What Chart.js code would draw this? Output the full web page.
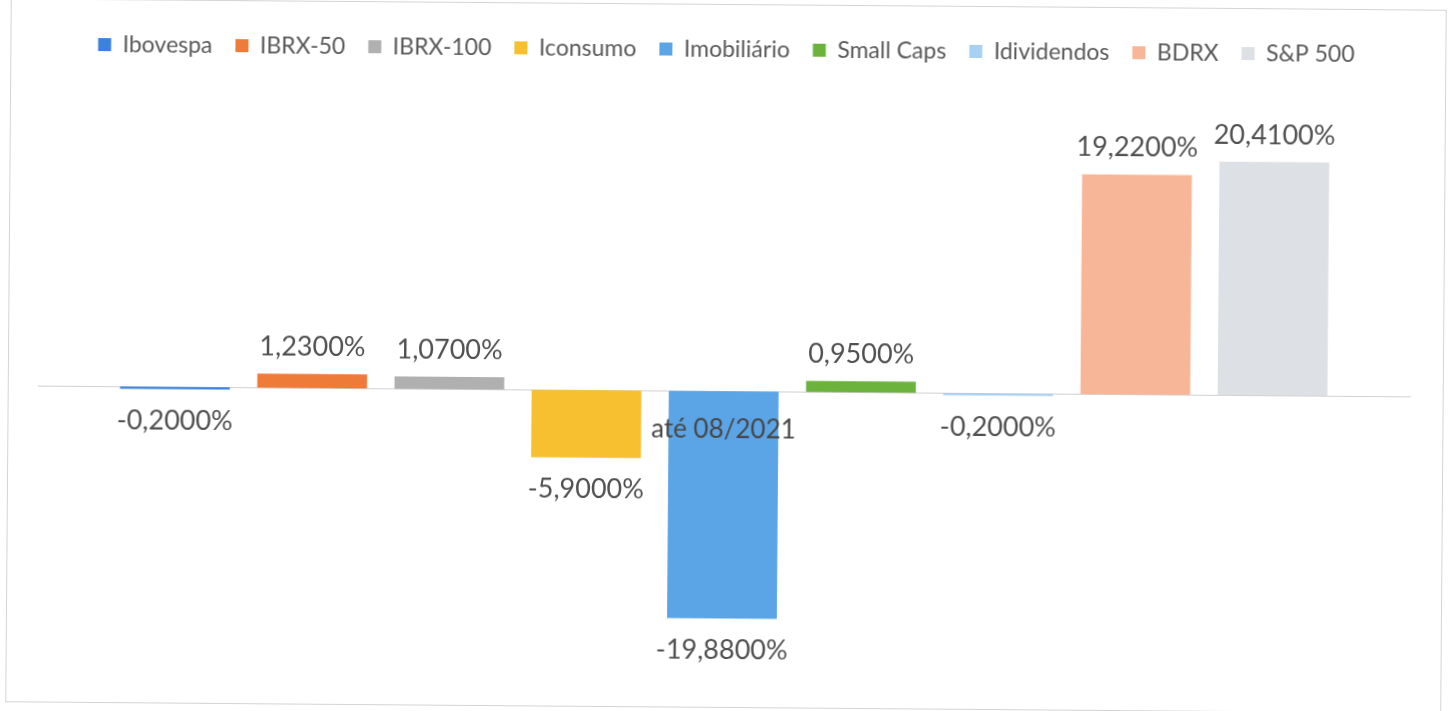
<!DOCTYPE html>
<html lang="pt">
<head>
    <meta charset="UTF-8">
    <title>Rentabilidade até 08/2021</title>
    <script src="https://cdn.jsdelivr.net/npm/chart.js"></script>
    <style>
        html, body { margin: 0; padding: 0; background: #fff; }
        .wrap {
            position: relative;
            width: 1452px;
            height: 711px;
            transform: rotate(0.45deg);
        }
        .frame {
            position: absolute;
            left: 8px; top: 4px;
            width: 1434px; height: 702px;
            border: 1px solid #d4d4d4;
        }
        canvas { position: absolute; left: 0; top: 0; }
    </style>
</head>
<body>
    <div class="wrap">
        <div class="frame"></div>
        <canvas id="chart" width="1452" height="711"></canvas>
    </div>

    <script>
        // data
        const categories = ['até 08/2021'];
        const seriesNames = ['Ibovespa', 'IBRX-50', 'IBRX-100', 'Iconsumo', 'Imobiliário',
                             'Small Caps', 'Idividendos', 'BDRX', 'S&P 500'];
        const seriesValues = [-0.20, 1.23, 1.07, -5.90, -19.88, 0.95, -0.20, 19.22, 20.41];
        const seriesColors = ['#3b82dc', '#ef7b38', '#b0b0b0', '#f7c031', '#5ba4e6',
                              '#6cb33e', '#a9d0f2', '#f8b698', '#dde0e4'];

        function fmt(v) {
            return v.toFixed(4).replace('.', ',') + '%';
        }

        // draws the value above / below each bar
        const valueLabels = {
            id: 'valueLabels',
            afterDatasetsDraw(chart) {
                const ctx = chart.ctx;
                ctx.save();
                ctx.font = '27px Lato';
                ctx.fillStyle = '#505050';
                ctx.textAlign = 'center';
                ctx.textBaseline = 'middle';
                chart.data.datasets.forEach((ds, i) => {
                    const meta = chart.getDatasetMeta(i);
                    meta.data.forEach((bar, j) => {
                        const v = ds.data[j];
                        const y = v >= 0 ? bar.y - 27 : bar.y + 32;
                        ctx.fillText(fmt(v), bar.x, y);
                    });
                });
                ctx.restore();
            }
        };

        const datasets = seriesNames.map((name, i) => ({
            label: name,
            data: [seriesValues[i]],
            backgroundColor: seriesColors[i],
            borderWidth: 0
        }));

        const ctx = document.getElementById('chart').getContext('2d');
        new Chart(ctx, {
            type: 'bar',
            data: { labels: categories, datasets: datasets },
            options: {
                responsive: false,
                animation: false,
                layout: { padding: { top: 15, left: 38, right: 42, bottom: 35 } },
                categoryPercentage: 0.9,
                barPercentage: 0.8,
                plugins: {
                    legend: {
                        position: 'top',
                        labels: {
                            boxWidth: 13,
                            boxHeight: 13,
                            padding: 23,
                            color: '#595959',
                            font: { family: 'Lato', size: 23 }
                        }
                    },
                    tooltip: { enabled: false }
                },
                scales: {
                    x: {
                        position: { y: 0 },
                        grid: { display: false, drawTicks: false },
                        border: { display: true, color: '#d0d0d0', width: 1 },
                        ticks: {
                            z: 1,
                            padding: 23,
                            color: '#474747',
                            font: { family: 'Lato', size: 26 }
                        }
                    },
                    y: {
                        display: false,
                        min: -24.9,
                        max: 28
                    }
                }
            },
            plugins: [valueLabels]
        });
    </script>
</body>
</html>
